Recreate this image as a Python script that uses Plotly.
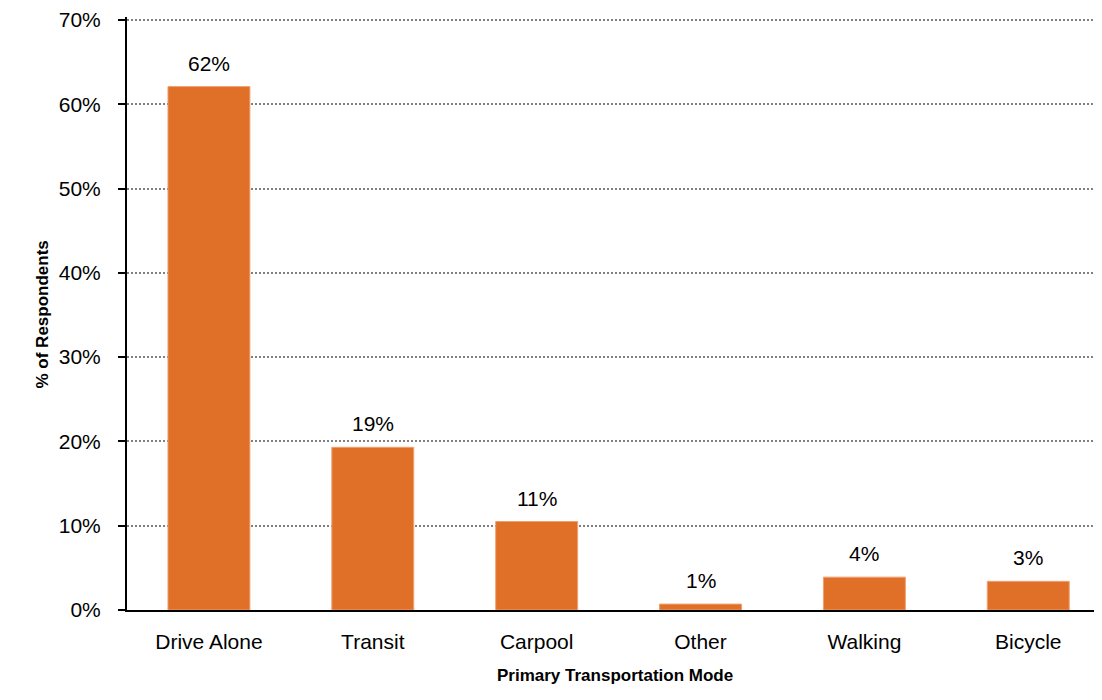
import plotly.graph_objects as go

categories = ["Drive Alone", "Transit", "Carpool", "Other", "Walking", "Bicycle"]
values = [62.1, 19.3, 10.5, 0.7, 3.9, 3.4]
labels = ["62%", "19%", "11%", "1%", "4%", "3%"]
y_ticks = [0, 10, 20, 30, 40, 50, 60, 70]
y_tick_text = ["0%", "10%", "20%", "30%", "40%", "50%", "60%", "70%"]

FONT = "Liberation Sans Narrow, Arial Narrow, Liberation Sans, Arial, sans-serif"
W, H = 1094, 692
L, R, T, B = 119, 0, 6, 90
pw = W - L - R
ph = H - T - B
y_max = 70 * ph / 593.0

fig = go.Figure()
fig.add_trace(go.Bar(
    x=categories, y=values,
    marker=dict(color="#E06F28", line=dict(color="#F0A070", width=1)),
    hoverinfo="skip",
))

for c, v, t in zip(categories, values, labels):
    fig.add_annotation(x=c, y=v, text=t, showarrow=False, xref="x", yref="y",
                       yanchor="bottom", yshift=10,
                       font=dict(family=FONT, size=21, color="#000000"))

fig.add_annotation(text="<b>% of Respondents</b>", textangle=-90, showarrow=False,
                   xref="paper", yref="paper", x=(42 - 127) / pw, y=(610 - 313) / ph,
                   xanchor="center", yanchor="middle",
                   font=dict(family=FONT, size=17, color="#000000"))
fig.add_annotation(text="<b>Primary Transportation Mode</b>", showarrow=False,
                   xref="paper", yref="paper", x=0.5, y=(610 - 676) / ph,
                   xanchor="center", yanchor="middle",
                   font=dict(family=FONT, size=17, color="#000000"))

fig.update_layout(
    width=W, height=H,
    margin=dict(l=L, r=R, t=T, b=B, pad=0),
    plot_bgcolor="white", paper_bgcolor="white",
    bargap=0.5,
    showlegend=False,
    font=dict(family=FONT, size=21, color="#000000"),
    xaxis=dict(
        range=[-0.5, 5.45],
        showline=True, linecolor="#000000", linewidth=2,
        ticks="", showgrid=False, zeroline=False,
        tickfont=dict(family=FONT, size=21, color="#000000"),
        ticklabelstandoff=12,
    ),
    yaxis=dict(
        range=[0, y_max],
        tickvals=y_ticks, ticktext=y_tick_text,
        showline=True, linecolor="#000000", linewidth=2,
        ticks="outside", ticklen=7, tickwidth=2, tickcolor="#000000",
        showgrid=True, gridcolor="#808080", griddash="2px,2px", gridwidth=1.5,
        zeroline=False,
        tickfont=dict(family=FONT, size=21, color="#000000"),
        ticklabelstandoff=13,
        ticklabeloverflow="allow",
    ),
)

fig.write_html("out.html")
